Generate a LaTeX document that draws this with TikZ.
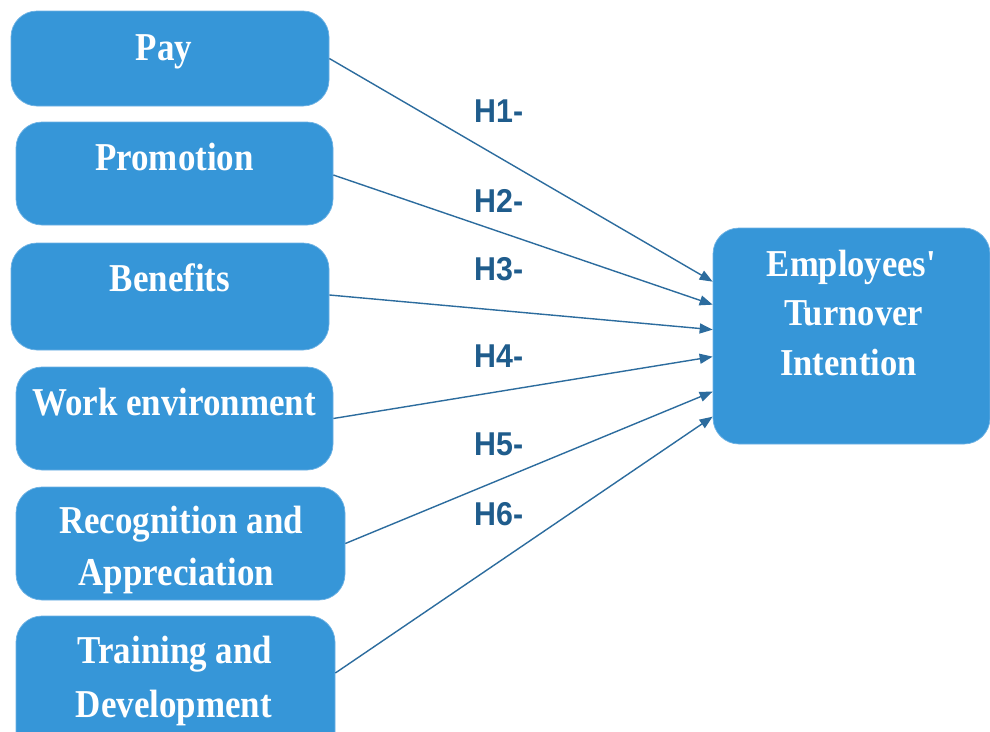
\documentclass[tikz,border=0pt]{standalone}
\usepackage{fontspec}
\newfontfamily\boxfont{Liberation Serif Bold}[FakeStretch=0.885]
\newfontfamily\empfont{Liberation Serif Bold}[FakeStretch=0.91]
\newfontfamily\hfont{Liberation Sans Bold}[FakeStretch=0.92]
\usetikzlibrary{arrows.meta}
\definecolor{boxblue}{RGB}{54,150,216}
\definecolor{boxedge}{RGB}{110,178,228}
\definecolor{arrowblue}{RGB}{44,108,158}
\definecolor{hblue}{RGB}{31,92,140}
\tikzset{
  varbox/.style={fill=boxblue, draw=boxedge, line width=0.7pt, rounded corners=26pt, inner sep=0pt},
  boxtext/.style={text=white, anchor=base, inner sep=0pt, font=\boxfont\fontsize{39.5}{49}\selectfont},
  emptext/.style={text=white, anchor=base, inner sep=0pt, font=\empfont\fontsize{38}{49}\selectfont},
  hlabel/.style={text=hblue, anchor=base west, inner sep=0pt, font=\hfont\fontsize{33}{40}\selectfont},
  link/.style={draw=arrowblue, line width=1.4pt, -{Triangle[length=13pt,width=10pt]}}
}
\begin{document}
\begin{tikzpicture}[x=1pt,y=-1pt]
\clip (0,0) rectangle (990,731);
\fill[white] (0,0) rectangle (990,731);
% boxes
\node[varbox, minimum width=318pt, minimum height=95pt]  (pay)   at (170,58.5)  {};
\node[varbox, minimum width=317pt, minimum height=103pt] (promo) at (174.5,173.5) {};
\node[varbox, minimum width=318pt, minimum height=107pt] (ben)   at (170,296.5) {};
\node[varbox, minimum width=317pt, minimum height=103pt] (work)  at (174.5,418.5) {};
\node[varbox, minimum width=329pt, minimum height=113pt] (rec)   at (180.5,543.5) {};
\node[varbox, minimum width=319pt, minimum height=144pt] (train) at (175.5,688) {};
\node[varbox, minimum width=277pt, minimum height=216pt] (emp)   at (851.5,336) {};
% box texts
\node[boxtext] (payT)    at (164,60)    {Pay};
\node[boxtext] (promoT)  at (174.5,170) {Promotion};
\node[boxtext] (benT)    at (170,291)   {Benefits};
\node[boxtext] (workT)   at (174,415)   {Work environment};
\node[boxtext] (recT1)   at (181,533)   {Recognition and};
\node[boxtext] (recT2)   at (176.5,585) {Appreciation};
\node[boxtext] (trainT1) at (175,663)   {Training and};
\node[boxtext] (trainT2) at (174,717)   {Development};
\node[emptext] (empT1)   at (851.5,276.5) {Employees'};
\node[emptext] (empT2)   at (853.5,325) {Turnover};
\node[emptext] (empT3)   at (848.5,375) {Intention};
% arrow end points on the target box
\coordinate (e1) at ([yshift=-54pt]emp.north west);
\coordinate (e2) at ([yshift=-77pt]emp.north west);
\coordinate (e3) at ([yshift=-102pt]emp.north west);
\coordinate (e4) at ([yshift=-129pt]emp.north west);
\coordinate (e5) at ([yshift=-164pt]emp.north west);
\coordinate (e6) at ([yshift=-189pt]emp.north west);
% connectors
\draw[link] (pay.east)   -- (e1);
\draw[link] ([yshift=-1.5pt]promo.east) -- (e2);
\draw[link] ([yshift=1.5pt]ben.east)    -- (e3);
\draw[link] (work.east)  -- (e4);
\draw[link] (rec.east)   -- (e5);
\draw[link] ([yshift=15pt]train.east) -- (e6);
% hypothesis labels
\node[hlabel] (h1) at (474,122) {H1-};
\node[hlabel] (h2) at (474,212) {H2-};
\node[hlabel] (h3) at (474,280) {H3-};
\node[hlabel] (h4) at (474,367) {H4-};
\node[hlabel] (h5) at (474,455) {H5-};
\node[hlabel] (h6) at (474,525) {H6-};
\end{tikzpicture}
\end{document}
